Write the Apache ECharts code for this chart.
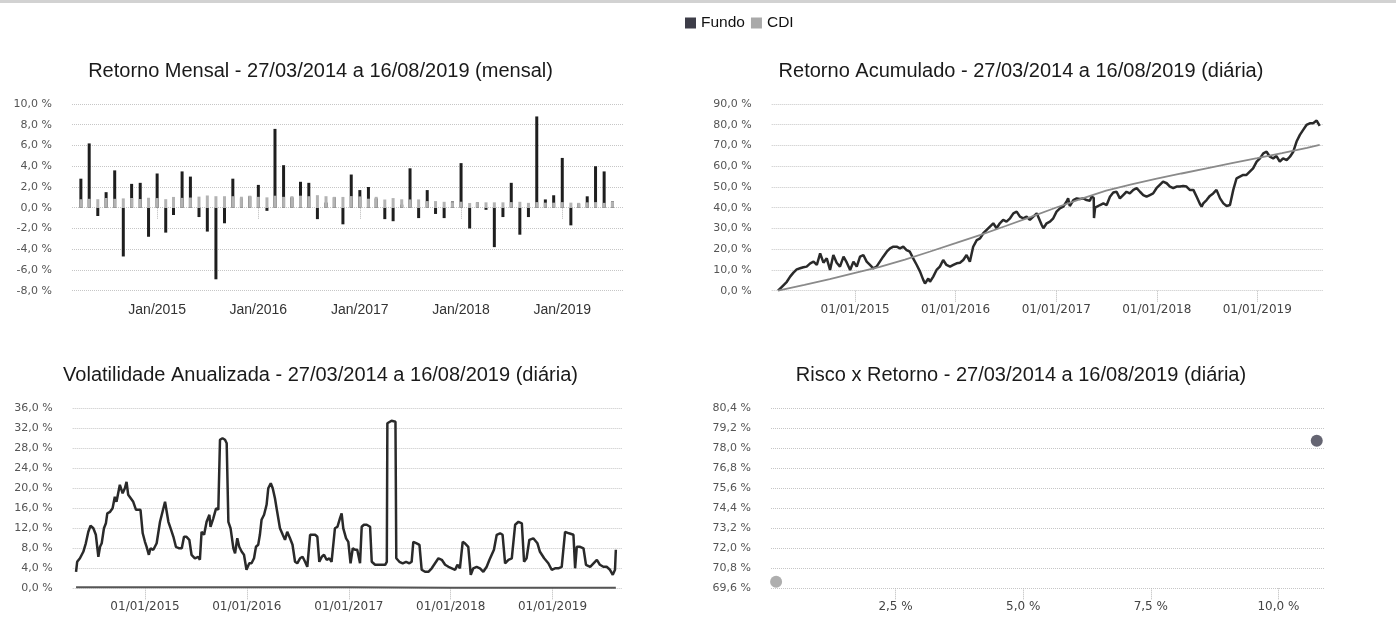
<!DOCTYPE html>
<html><head><meta charset="utf-8">
<script src="https://cdn.jsdelivr.net/npm/echarts@6/dist/echarts.min.js"></script>
<style>html,body{margin:0;padding:0;background:#fff}#c{width:1396px;height:630px}</style>
</head><body><div id="c"></div>
<script>
// ---------- DATA ----------
const meses = [
 '2014-04-01','2014-05-01','2014-06-01','2014-07-01','2014-08-01','2014-09-01','2014-10-01','2014-11-01','2014-12-01',
 '2015-01-01','2015-02-01','2015-03-01','2015-04-01','2015-05-01','2015-06-01','2015-07-01','2015-08-01','2015-09-01','2015-10-01','2015-11-01','2015-12-01',
 '2016-01-01','2016-02-01','2016-03-01','2016-04-01','2016-05-01','2016-06-01','2016-07-01','2016-08-01','2016-09-01','2016-10-01','2016-11-01','2016-12-01',
 '2017-01-01','2017-02-01','2017-03-01','2017-04-01','2017-05-01','2017-06-01','2017-07-01','2017-08-01','2017-09-01','2017-10-01','2017-11-01','2017-12-01',
 '2018-01-01','2018-02-01','2018-03-01','2018-04-01','2018-05-01','2018-06-01','2018-07-01','2018-08-01','2018-09-01','2018-10-01','2018-11-01','2018-12-01',
 '2019-01-01','2019-02-01','2019-03-01','2019-04-01','2019-05-01','2019-06-01','2019-07-01'
];
const fundoMensal = [
 2.8, 6.2, -0.8, 1.5, 3.6, -4.7, 2.3, 2.4, -2.8,
 3.3, -2.4, -0.7, 3.5, 3.0, -0.9, -2.3, -6.9, -1.5, 2.8, 0.9, 1.1,
 2.2, -0.3, 7.6, 4.1, 1.0, 2.5, 2.4, -1.1, 0.5, 1.0, -1.6, 3.2,
 1.7, 2.0, 0.9, -1.1, -1.3, 0.3, 3.8, -1.0, 1.7, -0.6, -1.0, 0.6,
 4.3, -2.0, 0.5, -0.2, -3.8, -0.9, 2.4, -2.6, -0.9, 8.8, 0.8, 1.2,
 4.8, -1.7, 0.4, 1.1, 4.0, 3.5, 0.6
];
const cdiMensal = [
 0.82, 0.86, 0.82, 0.94, 0.86, 0.90, 0.94, 0.84, 0.96,
 0.93, 0.82, 1.04, 0.95, 0.98, 1.07, 1.18, 1.11, 1.11, 1.11, 1.06, 1.16,
 1.05, 1.00, 1.16, 1.05, 1.11, 1.16, 1.11, 1.21, 1.11, 1.05, 1.04, 1.12,
 1.09, 0.87, 1.05, 0.79, 0.93, 0.81, 0.80, 0.80, 0.64, 0.64, 0.57, 0.54,
 0.58, 0.46, 0.53, 0.52, 0.52, 0.52, 0.54, 0.57, 0.47, 0.54, 0.49, 0.49,
 0.54, 0.49, 0.47, 0.52, 0.54, 0.47, 0.57
];

const acumFundo = [
 ['2014-03-27',0],['2014-04-10',1.9],['2014-04-28',4.3],['2014-05-10',6.8],['2014-05-22',8.7],['2014-06-03',10.3],
 ['2014-06-15',10.8],['2014-06-27',11.3],['2014-07-09',11.6],['2014-07-22',13.2],['2014-08-03',14.0],['2014-08-15',12.4],
 ['2014-08-27',18.0],['2014-09-08',13.5],['2014-09-20',15.6],['2014-10-02',10.0],['2014-10-14',17.2],['2014-10-26',13.5],
 ['2014-11-07',11.6],['2014-11-20',16.4],['2014-12-02',13.5],['2014-12-14',10.0],['2014-12-26',14.0],['2015-01-07',11.6],
 ['2015-01-19',16.4],['2015-01-31',17.2],['2015-02-12',14.0],['2015-02-24',12.4],['2015-03-08',10.8],['2015-03-20',11.6],
 ['2015-04-01',14.0],['2015-04-13',16.4],['2015-04-26',18.8],['2015-05-08',20.4],['2015-05-20',21.2],['2015-06-01',21.2],
 ['2015-06-13',20.4],['2015-06-25',21.2],['2015-07-07',19.6],['2015-07-19',18.8],['2015-07-31',15.6],['2015-08-13',12.4],
 ['2015-08-25',9.2],['2015-09-06',5.1],['2015-09-12',3.5],['2015-09-24',5.9],['2015-09-30',4.3],['2015-10-12',6.8],
 ['2015-10-24',10.0],['2015-11-05',11.6],['2015-11-17',14.8],['2015-11-29',12.4],['2015-12-12',11.6],['2015-12-24',12.4],
 ['2016-01-05',13.2],['2016-01-17',13.5],['2016-01-29',14.8],['2016-02-10',17.2],['2016-02-22',14.0],['2016-03-05',21.2],
 ['2016-03-18',24.4],['2016-03-30',25.2],['2016-04-11',27.7],['2016-04-23',29.3],['2016-05-05',30.9],['2016-05-17',32.5],
 ['2016-05-29',30.1],['2016-06-10',32.5],['2016-06-22',34.1],['2016-07-04',33.3],['2016-07-17',34.9],['2016-07-29',37.3],
 ['2016-08-10',38.1],['2016-08-22',35.7],['2016-09-03',34.9],['2016-09-15',35.7],['2016-09-27',34.1],['2016-10-22',37.3],
 ['2016-11-09',31.7],['2016-11-15',30.1],['2016-11-27',32.5],['2016-12-09',33.3],['2016-12-21',34.9],['2017-01-02',38.1],
 ['2017-01-14',39.7],['2017-01-26',40.5],['2017-02-07',42.9],['2017-02-13',44.5],['2017-02-19',40.8],['2017-03-04',43.7],
 ['2017-03-16',44.5],['2017-03-28',44.2],['2017-04-09',44.5],['2017-04-21',43.7],['2017-05-03',43.4],['2017-05-09',45.3],
 ['2017-05-17',44.8],['2017-05-18',35.0],['2017-05-22',40.0],['2017-05-27',40.5],['2017-06-09',41.3],['2017-06-21',42.1],
 ['2017-07-03',41.3],['2017-07-15',45.3],['2017-07-27',47.3],['2017-08-08',47.7],['2017-08-20',44.5],['2017-09-01',46.1],
 ['2017-09-13',47.7],['2017-09-25',46.9],['2017-10-08',48.6],['2017-10-20',49.4],['2017-11-01',47.7],['2017-11-13',46.1],
 ['2017-11-25',45.3],['2017-12-07',46.1],['2017-12-19',46.9],['2017-12-31',49.4],['2018-01-12',51.0],['2018-01-24',52.6],
 ['2018-02-06',51.8],['2018-02-18',50.2],['2018-03-02',49.4],['2018-03-14',50.2],['2018-03-26',50.2],['2018-04-07',50.5],
 ['2018-04-19',50.2],['2018-05-01',48.6],['2018-05-14',48.6],['2018-05-26',45.3],['2018-06-07',41.8],['2018-06-13',40.5],
 ['2018-06-19',42.1],['2018-07-01',43.7],['2018-07-13',45.7],['2018-07-25',46.9],['2018-08-06',48.6],['2018-08-19',44.5],
 ['2018-08-31',42.1],['2018-09-12',40.8],['2018-09-24',41.3],['2018-09-30',42.1],['2018-10-06',48.6],['2018-10-18',54.2],
 ['2018-10-30',55.0],['2018-11-11',55.8],['2018-11-23',55.8],['2018-12-05',57.4],['2018-12-17',59.0],['2018-12-30',62.2],
 ['2019-01-11',63.8],['2019-01-23',66.2],['2019-02-04',67.0],['2019-02-16',64.6],['2019-02-28',63.8],['2019-03-12',64.9],
 ['2019-03-24',62.2],['2019-04-05',63.8],['2019-04-18',63.0],['2019-04-30',64.6],['2019-05-12',67.0],['2019-05-24',71.9],
 ['2019-06-05',75.1],['2019-06-17',77.5],['2019-06-29',79.9],['2019-07-11',80.7],['2019-07-23',80.7],['2019-07-30',81.5],
 ['2019-08-05',82.0],['2019-08-16',79.5]
];
const acumCDI = [
 ['2014-03-27',0],['2014-07-01',2.8],['2014-10-01',5.6],['2015-01-01',8.6],['2015-04-01',11.5],['2015-07-01',15.0],
 ['2015-10-01',18.9],['2016-01-01',22.9],['2016-04-01',26.9],['2016-07-01',31.2],['2016-10-01',35.6],['2017-01-01',40.1],
 ['2017-04-01',44.3],['2017-07-01',48.2],['2017-10-01',51.3],['2018-01-01',54.0],['2018-04-01',56.5],['2018-07-01',59.0],
 ['2018-10-01',61.5],['2019-01-01',63.9],['2019-04-01',66.3],['2019-07-01',68.9],['2019-08-16',70.3]
];

const volFundo = [
 ['2014-04-29',3.3],['2014-05-03',5.3],['2014-05-13',6.0],['2014-05-25',7.3],['2014-06-03',9.0],['2014-06-12',11.3],
 ['2014-06-20',12.5],['2014-06-30',12.0],['2014-07-09',10.7],['2014-07-18',6.3],['2014-07-24',8.3],['2014-07-30',9.0],
 ['2014-08-07',12.0],['2014-08-14',13.0],['2014-08-19',15.0],['2014-08-29',15.3],['2014-09-07',16.0],['2014-09-15',18.3],
 ['2014-09-21',17.3],['2014-10-03',20.7],['2014-10-13',19.0],['2014-10-21',20.0],['2014-10-27',21.3],['2014-11-02',18.7],
 ['2014-11-11',18.0],['2014-11-20',17.3],['2014-11-30',15.7],['2014-12-08',15.7],['2014-12-16',15.7],['2014-12-24',11.0],
 ['2015-01-01',9.3],['2015-01-07',8.3],['2015-01-15',6.7],['2015-01-21',8.0],['2015-01-31',7.7],['2015-02-12',9.0],
 ['2015-02-18',8.7],['2015-02-24',13.3],['2015-03-05',15.3],['2015-03-14',17.3],['2015-03-20',15.3],['2015-03-26',13.3],
 ['2015-04-03',12.0],['2015-04-13',10.3],['2015-04-22',8.3],['2015-05-04',8.0],['2015-05-13',8.0],['2015-05-21',10.3],
 ['2015-05-30',10.3],['2015-06-09',9.7],['2015-06-17',6.7],['2015-06-29',6.0],['2015-07-11',6.3],['2015-07-17',5.7],
 ['2015-07-23',11.3],['2015-08-01',10.7],['2015-08-10',13.3],['2015-08-20',14.7],['2015-08-24',12.3],['2015-09-03',14.0],
 ['2015-09-13',16.0],['2015-09-21',15.7],['2015-09-27',29.7],['2015-10-06',30.0],['2015-10-15',29.7],['2015-10-21',29.0],
 ['2015-10-27',13.3],['2015-11-04',12.0],['2015-11-14',8.0],['2015-11-20',7.0],['2015-11-28',10.0],['2015-12-05',8.3],
 ['2015-12-14',7.3],['2015-12-22',6.7],['2015-12-31',3.7],['2016-01-10',5.0],['2016-01-18',5.0],['2016-01-27',6.0],
 ['2016-02-03',8.3],['2016-02-11',8.7],['2016-02-17',10.7],['2016-02-23',13.7],['2016-03-03',14.7],['2016-03-12',16.7],
 ['2016-03-18',20.0],['2016-03-27',21.0],['2016-04-03',20.0],['2016-04-11',18.0],['2016-04-19',15.3],['2016-04-29',12.0],
 ['2016-05-09',10.7],['2016-05-17',9.7],['2016-05-25',11.3],['2016-06-04',10.0],['2016-06-13',8.7],['2016-06-22',5.3],
 ['2016-06-30',5.0],['2016-07-10',6.0],['2016-07-19',6.3],['2016-07-28',5.3],['2016-08-05',4.3],['2016-08-15',10.7],
 ['2016-08-24',10.7],['2016-09-02',10.7],['2016-09-10',10.3],['2016-09-17',5.3],['2016-09-26',6.3],['2016-10-04',6.7],
 ['2016-10-13',5.7],['2016-10-23',6.0],['2016-10-31',5.3],['2016-11-06',5.0],['2016-11-12',12.0],['2016-11-21',12.3],
 ['2016-11-30',14.0],['2016-12-06',15.0],['2016-12-12',12.0],['2016-12-22',10.0],['2016-12-30',9.3],['2017-01-07',5.0],
 ['2017-01-15',8.0],['2017-01-23',7.7],['2017-01-31',7.7],['2017-02-10',5.0],['2017-02-16',12.3],['2017-02-24',12.7],
 ['2017-03-06',12.7],['2017-03-18',12.3],['2017-03-24',5.3],['2017-04-05',4.7],['2017-04-17',4.7],['2017-04-29',4.7],
 ['2017-05-11',4.7],['2017-05-17',5.3],['2017-05-19',33.0],['2017-06-03',33.5],['2017-06-17',33.3],['2017-06-20',6.0],
 ['2017-07-01',5.3],['2017-07-13',5.0],['2017-07-25',5.3],['2017-08-06',5.0],['2017-08-14',5.3],['2017-08-20',9.3],
 ['2017-09-01',9.0],['2017-09-11',8.7],['2017-09-19',3.7],['2017-10-01',3.3],['2017-10-13',3.3],['2017-10-25',4.0],
 ['2017-11-06',5.0],['2017-11-18',6.0],['2017-11-30',5.7],['2017-12-12',4.7],['2017-12-24',4.3],['2018-01-05',4.0],
 ['2018-01-17',3.7],['2018-01-25',4.7],['2018-02-03',4.0],['2018-02-13',9.3],['2018-02-21',9.0],['2018-03-05',8.3],
 ['2018-03-14',2.7],['2018-03-23',4.0],['2018-04-04',4.3],['2018-04-16',4.0],['2018-04-28',3.3],['2018-05-10',4.3],
 ['2018-05-20',5.7],['2018-05-28',6.7],['2018-06-05',7.7],['2018-06-15',10.7],['2018-06-27',11.0],['2018-07-06',10.7],
 ['2018-07-15',5.0],['2018-07-27',5.7],['2018-08-08',6.0],['2018-08-20',12.7],['2018-09-01',13.3],['2018-09-13',13.0],
 ['2018-09-21',5.3],['2018-09-30',6.0],['2018-10-10',9.7],['2018-10-24',10.0],['2018-11-08',9.0],['2018-11-17',7.3],
 ['2018-12-02',6.0],['2018-12-17',5.0],['2018-12-29',3.7],['2019-01-10',4.0],['2019-01-22',4.0],['2019-02-03',4.3],
 ['2019-02-15',11.3],['2019-03-01',11.0],['2019-03-17',10.7],['2019-03-23',4.0],['2019-03-29',8.3],['2019-04-10',8.3],
 ['2019-04-22',8.0],['2019-05-01',4.7],['2019-05-16',4.3],['2019-05-28',5.0],['2019-06-09',5.7],['2019-06-20',4.7],
 ['2019-07-02',4.3],['2019-07-14',4.3],['2019-07-26',3.7],['2019-08-05',2.7],['2019-08-13',3.7],['2019-08-16',7.7]
];
const volCDI = [
 ['2014-04-29',0.2],['2015-01-01',0.2],['2016-01-01',0.2],['2017-01-01',0.2],['2018-01-01',0.1],['2019-01-01',0.1],['2019-08-16',0.1]
];

const riscoFundo = [10.75, 78.45];
const riscoCDI = [0.16, 70.0];

const tickAnos = ['2015-01-01','2016-01-01','2017-01-01','2018-01-01','2019-01-01'];
const tickRisco = [2.5, 5.0, 7.5, 10.0];
const nomesMes = ['Jan','Fev','Mar','Abr','Mai','Jun','Jul','Ago','Set','Out','Nov','Dez'];

const titulos = [
 'Retorno Mensal - 27/03/2014 a 16/08/2019 (mensal)',
 'Retorno Acumulado - 27/03/2014 a 16/08/2019 (diária)',
 'Volatilidade Anualizada - 27/03/2014 a 16/08/2019 (diária)',
 'Risco x Retorno - 27/03/2014 a 16/08/2019 (diária)'
];

// ---------- HELPERS ----------
const ts = s => new Date(s + 'T00:00:00').getTime();
const serie = arr => arr.map(p => [ts(p[0]), p[1]]);
const pct = v => (Math.round(v * 10) / 10).toFixed(1).replace('.', ',') + ' %';
const pad = n => (n < 10 ? '0' : '') + n;
const fmtMes = v => { const d = new Date(v); return nomesMes[d.getMonth()] + '/' + d.getFullYear(); };
const fmtDia = v => { const d = new Date(v); return pad(d.getDate()) + '/' + pad(d.getMonth() + 1) + '/' + d.getFullYear(); };
const tickAnosTs = tickAnos.map(ts);

const GRID = { type: 'dotted', color: '#c6c6c6', width: 1 };
const YLAB = { fontFamily: 'DejaVu Sans', fontSize: 11, color: '#555', margin: 20, formatter: pct };
const TICK = { show: true, length: 11, lineStyle: { color: '#b8b8b8', type: 'dotted' } };

function yAx(gi, min, max, interval) {
  return { type: 'value', gridIndex: gi, min, max, interval,
    axisLine: { show: false }, axisTick: { show: false },
    axisLabel: YLAB, splitLine: { show: true, lineStyle: GRID } };
}
function xDate(gi, min, max, fmt, lab) {
  return { type: 'value', gridIndex: gi, min: ts(min), max: ts(max), scale: true,
    axisLine: { show: false },
    axisTick: Object.assign({ customValues: tickAnosTs }, TICK),
    axisLabel: Object.assign({ customValues: tickAnosTs, formatter: fmt }, lab),
    splitLine: { show: false } };
}

const chart = echarts.init(document.getElementById('c'), null, { renderer: 'canvas' });
const TT = { fontFamily: 'Liberation Sans', fontSize: 20, fontWeight: 'normal', color: '#1a1a1a' };

chart.setOption({
  animation: false,
  backgroundColor: '#ffffff',
  graphic: [{ type: 'rect', shape: { x: 0, y: 0, width: 1396, height: 3 }, style: { fill: '#d2d2d2' }, silent: true }],
  title: [
    { text: titulos[0], left: 320.5, top: 61, textAlign: 'center', textVerticalAlign: 'top', padding: 0, textStyle: TT },
    { text: titulos[1], left: 1021, top: 61, textAlign: 'center', textVerticalAlign: 'top', padding: 0, textStyle: TT },
    { text: titulos[2], left: 320.5, top: 365, textAlign: 'center', textVerticalAlign: 'top', padding: 0, textStyle: TT },
    { text: titulos[3], left: 1021, top: 365, textAlign: 'center', textVerticalAlign: 'top', padding: 0, textStyle: TT }
  ],
  legend: {
    left: 685, top: 15, padding: 0, itemWidth: 11, itemHeight: 11, itemGap: 6, icon: 'rect',
    textStyle: { fontFamily: 'Liberation Sans', fontSize: 15.5, color: '#111' },
    data: [{ name: 'Fundo', itemStyle: { color: '#3d3d48' } }, { name: 'CDI', itemStyle: { color: '#a9a9a9' } }]
  },
  grid: [
    { left: 72, top: 104, width: 551, height: 186.7 },
    { left: 771.7, top: 104, width: 551.3, height: 186.7 },
    { left: 72.7, top: 408.3, width: 549, height: 180 },
    { left: 771, top: 408.3, width: 553.4, height: 180 }
  ],
  xAxis: [
    xDate(0, '2014-02-28', '2019-08-08', fmtMes, { fontFamily: 'Liberation Sans', fontSize: 14, color: '#333', margin: 12 }),
    xDate(1, '2014-03-04', '2019-08-28', fmtDia, { fontFamily: 'DejaVu Sans', fontSize: 12, color: '#444', margin: 13 }),
    xDate(2, '2014-04-17', '2019-09-06', fmtDia, { fontFamily: 'DejaVu Sans', fontSize: 12, color: '#444', margin: 13 }),
    { type: 'value', gridIndex: 3, min: 0.06, max: 10.9,
      axisLine: { show: false },
      axisTick: Object.assign({ customValues: tickRisco }, TICK),
      axisLabel: { customValues: tickRisco, formatter: pct, fontFamily: 'DejaVu Sans', fontSize: 12, color: '#444', margin: 13 },
      splitLine: { show: false } }
  ],
  yAxis: [
    yAx(0, -8, 10, 2),
    yAx(1, 0, 90, 10),
    yAx(2, 0, 36, 4),
    yAx(3, 69.6, 80.4, 1.2)
  ],
  series: [
    { name: 'Fundo', type: 'bar', xAxisIndex: 0, yAxisIndex: 0, barWidth: 3, barGap: '-100%',
      itemStyle: { color: '#1e1e1e' }, data: meses.map((m, i) => [ts(m), fundoMensal[i]]) },
    { name: 'CDI', type: 'bar', xAxisIndex: 0, yAxisIndex: 0, barWidth: 3, barGap: '-100%',
      itemStyle: { color: '#b3b3b3' }, data: meses.map((m, i) => [ts(m), cdiMensal[i]]) },
    { name: 'Fundo', type: 'line', xAxisIndex: 1, yAxisIndex: 1, showSymbol: false, symbol: 'none',
      lineStyle: { color: '#2a2a2a', width: 2.5 }, itemStyle: { color: '#2a2a2a' }, data: serie(acumFundo) },
    { name: 'CDI', type: 'line', xAxisIndex: 1, yAxisIndex: 1, showSymbol: false, symbol: 'none', z: 3,
      lineStyle: { color: '#8a8a8a', width: 1.8 }, itemStyle: { color: '#8a8a8a' }, data: serie(acumCDI) },
    { name: 'Fundo', type: 'line', xAxisIndex: 2, yAxisIndex: 2, showSymbol: false, symbol: 'none',
      lineStyle: { color: '#2a2a2a', width: 2.5 }, itemStyle: { color: '#2a2a2a' }, data: serie(volFundo) },
    { name: 'CDI', type: 'line', xAxisIndex: 2, yAxisIndex: 2, showSymbol: false, symbol: 'none',
      lineStyle: { color: '#555', width: 2 }, itemStyle: { color: '#555' }, data: serie(volCDI) },
    { name: 'Fundo', type: 'scatter', xAxisIndex: 3, yAxisIndex: 3, symbolSize: 12,
      itemStyle: { color: '#3e3f4f' }, data: [riscoFundo] },
    { name: 'CDI', type: 'scatter', xAxisIndex: 3, yAxisIndex: 3, symbolSize: 12,
      itemStyle: { color: '#9a9a9a' }, data: [riscoCDI] }
  ]
});
</script>
</body></html>
